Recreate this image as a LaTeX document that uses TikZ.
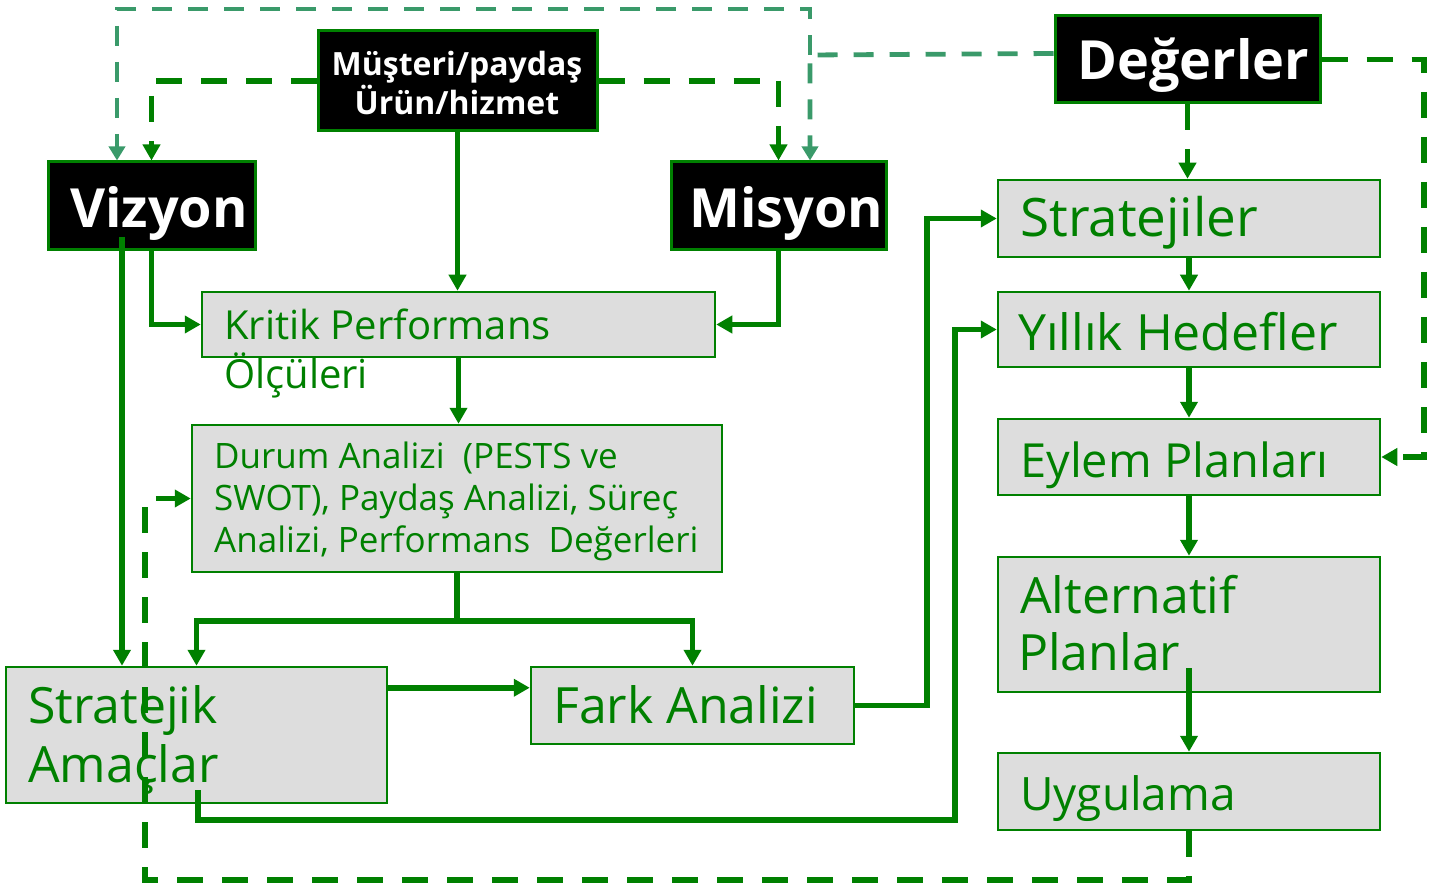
\documentclass[tikz,border=0pt]{standalone}
\usepackage{fontspec}
\setmainfont{Open Sans}
\usetikzlibrary{arrows.meta,calc}
\definecolor{dgreen}{HTML}{008000}
\definecolor{lgreen}{HTML}{3A9A6A}
\definecolor{boxgray}{HTML}{DDDDDD}
\begin{document}
\begin{tikzpicture}[x=1pt,y=-1pt,
  gbox/.style={draw=dgreen, line width=2.5pt, fill=boxgray, inner sep=0pt, rectangle},
  bbox/.style={draw=dgreen, line width=3pt, fill=black, inner sep=0pt, rectangle},
  gt/.style={text=dgreen, inner sep=0pt, anchor=base west},
  gbig/.style={gt, font=\fontsize{50}{60}\selectfont},
  wbig/.style={text=white, inner sep=0pt, anchor=base west, font=\fontsize{54}{64}\selectfont\bfseries},
  wsmall/.style={text=white, inner sep=0pt, anchor=base, font=\fontsize{32}{38}\selectfont\bfseries},
  tip/.style={-{Triangle[length=16pt,width=17pt]}},
  con/.style={draw=dgreen, line width=5.5pt},
  arr/.style={con, tip},
  darr/.style={con, tip, dash pattern=on 26pt off 19pt},
  larr/.style={draw=lgreen, line width=4.8pt, dash pattern=on 20pt off 16pt, -{Triangle[length=14pt,width=16pt]}}
]
\useasboundingbox (0,0) rectangle (1443,885);

% ---------- boxes ----------
\node[bbox, minimum width=279pt, minimum height=100pt] (mus) at (457.5,81) {};
\node[bbox, minimum width=207pt, minimum height=88pt] (viz) at (151.5,206) {};
\node[bbox, minimum width=215pt, minimum height=88pt] (mis) at (778.5,206) {};
\node[bbox, minimum width=265pt, minimum height=87pt] (deg) at (1187.5,59.5) {};

\node[gbox, minimum width=513pt, minimum height=65pt] (kpo) at (458.5,324.5) {};
\node[gbox, minimum width=530pt, minimum height=147pt] (da) at (457,498.5) {};
\node[gbox, minimum width=381pt, minimum height=136pt] (sa) at (196.5,735) {};
\node[gbox, minimum width=323pt, minimum height=77pt] (fa) at (692.5,705.5) {};
\node[gbox, minimum width=382pt, minimum height=77pt] (st) at (1189,218.5) {};
\node[gbox, minimum width=382pt, minimum height=75pt] (yh) at (1189,329.5) {};
\node[gbox, minimum width=382pt, minimum height=76pt] (ep) at (1189,457) {};
\node[gbox, minimum width=382pt, minimum height=135pt] (ap) at (1189,624.5) {};
\node[gbox, minimum width=382pt, minimum height=77pt] (ug) at (1189,791.5) {};

% ---------- texts ----------
\node[wsmall] (t-mus1) at (457,76) {Müşteri/paydaş};
\node[wsmall] (t-mus2) at (457,115) {Ürün/hizmet};
\node[wbig] (t-viz) at (70,228) {Vizyon};
\node[wbig] (t-mis) at (689,228) {Misyon};
\node[wbig] (t-deg) at (1077,80) {Değerler};

\node[gt, font=\fontsize{40}{48}\selectfont] (t-kpo1) at (224,340) {Kritik Performans};
\node[gt, font=\fontsize{40}{48}\selectfont] (t-kpo2) at (224,388) {Ölçüleri};

\node[gt, font=\fontsize{35}{42}\selectfont] (t-da1) at (214,468) {Durum Analizi\ \ (PESTS ve};
\node[gt, font=\fontsize{35}{42}\selectfont] (t-da2) at (214,510) {SWOT), Paydaş Analizi, Süreç};
\node[gt, font=\fontsize{35}{42}\selectfont] (t-da3) at (214,552) {Analizi, Performans\ \ Değerleri};

\node[gbig] (t-sa1) at (28,723) {Stratejik};
\node[gbig] (t-sa2) at (28,782) {Amaçlar};
\node[gbig] (t-fa) at (553,723) {Fark Analizi};
\node[gbig, font=\fontsize{53}{60}\selectfont] (t-st) at (1020,237) {Stratejiler};
\node[gbig] (t-yh) at (1018,350) {Yıllık Hedefler};
\node[gbig, font=\fontsize{47}{60}\selectfont] (t-ep) at (1020,477) {Eylem Planları};
\node[gbig] (t-ap1) at (1020,613) {Alternatif};
\node[gbig] (t-ap2) at (1018,670) {Planlar};
\node[gbig, font=\fontsize{46}{60}\selectfont] (t-ug) at (1020,810) {Uygulama};

% ---------- helper coordinates ----------
\coordinate (v1) at (122,237);
\coordinate (dj) at (457,621);
\coordinate (x927) at (927,0);
\coordinate (s2) at (198,790);
\coordinate (b955) at (955,820);
\coordinate (a2) at (1189,668);
\coordinate (lb) at (145,880);
\coordinate (rr) at (1424,0);
\coordinate (lj) at (810,55);
\coordinate (ltop) at (117,9);

% ---------- solid connectors ----------
\draw[arr] (mus.south) -- (mus.south |- kpo.north);
\draw[arr] (viz.south) |- (kpo.west);
\draw[arr] (mis.south) |- (kpo.east);
\draw[arr] (v1) -- (v1 |- sa.north);
\draw[arr] (kpo.south) -- (kpo.south |- da.north);
\draw[con] (da.south) -- (dj);
\draw[arr] (dj) -| (sa.north);
\draw[arr] (dj) -| (fa.north);
\draw[arr] ($(sa.north east)+(0,22)$) -- ($(fa.north west)+(0,22)$);
\draw[arr] (fa.east) -| (x927 |- st.west) -- (st.west);
\draw[arr] (s2) |- (b955) |- (yh.west);
\draw[arr] (st.south) -- (yh.north);
\draw[arr] (yh.south) -- (ep.north);
\draw[arr] (ep.south) -- (ap.north);
\draw[arr] (a2) -- (a2 |- ug.north);

% ---------- dark dashed connectors ----------
\draw[darr] (deg.south) -- (deg.south |- st.north);
\draw[darr] (ug.south) |- (lb) |- (da.west);
\draw[darr] (deg.east) -| (rr |- ep.east) -- (ep.east);
\draw[darr] (mus.west) -| (viz.north);
\draw[darr] (mus.east) -| (mis.north);

% ---------- light dashed connectors ----------
\draw[larr] ($(deg.north west)+(0,39)$) -- (lj) -- (lj |- mis.north);
\draw[larr] (lj) -- (lj |- ltop) -- (ltop) -- (ltop |- viz.north);
\end{tikzpicture}
\end{document}
